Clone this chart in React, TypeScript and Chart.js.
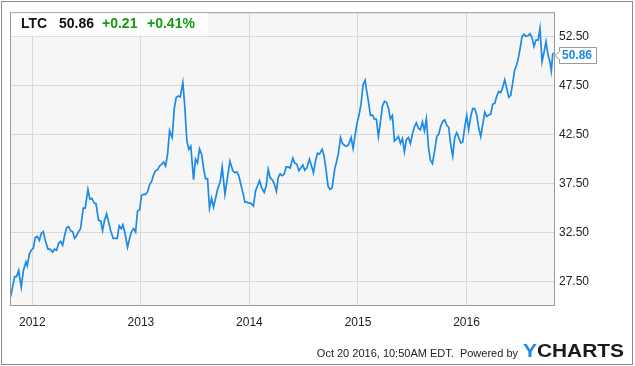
import React, { useEffect, useRef } from "react";
import { Chart, registerables } from "chart.js";

Chart.register(...registerables);

const TICKER = "LTC";
const LAST_PRICE = "50.86";
const CHANGE = "+0.21";
const CHANGE_PCT = "+0.41%";
const FOOTER_TEXT = "Oct 20 2016, 10:50AM EDT.  Powered by";

const yearTicks = [2012, 2013, 2014, 2015, 2016];
const priceTicks = [27.5, 32.5, 37.5, 42.5, 47.5, 52.5];

// dates as decimal years (roughly weekly)
const dates = [
  2011.800, 2011.837, 2011.855, 2011.874, 2011.898, 2011.917, 2011.941, 2011.953, 2011.972, 2011.990,
  2012.009, 2012.027, 2012.045, 2012.064, 2012.082, 2012.101, 2012.119, 2012.144, 2012.162, 2012.187,
  2012.205, 2012.223, 2012.242, 2012.260, 2012.279, 2012.297, 2012.316, 2012.334, 2012.352, 2012.371,
  2012.389, 2012.408, 2012.426, 2012.444, 2012.469, 2012.487, 2012.512, 2012.530, 2012.549, 2012.567,
  2012.586, 2012.610, 2012.629, 2012.647, 2012.665, 2012.684, 2012.702, 2012.721, 2012.745, 2012.764,
  2012.782, 2012.800, 2012.819,
  2012.834, 2012.853, 2012.877, 2012.896, 2012.914, 2012.933, 2012.951, 2012.969, 2012.988, 2013.006,
  2013.025, 2013.043, 2013.061, 2013.080, 2013.098, 2013.117, 2013.135, 2013.154, 2013.172, 2013.190,
  2013.209, 2013.227, 2013.246, 2013.264, 2013.276, 2013.288, 2013.307, 2013.325, 2013.344, 2013.362,
  2013.387, 2013.405, 2013.424, 2013.442, 2013.460, 2013.485, 2013.503, 2013.522, 2013.540, 2013.559,
  2013.577, 2013.595, 2013.614, 2013.632, 2013.651, 2013.669, 2013.688, 2013.706, 2013.731, 2013.749,
  2013.774, 2013.792, 2013.820,
  2013.847, 2013.866, 2013.884, 2013.902, 2013.921, 2013.939, 2013.958, 2013.976, 2013.995, 2014.013,
  2014.037, 2014.056, 2014.074, 2014.093, 2014.111, 2014.136, 2014.154, 2014.173, 2014.191, 2014.209,
  2014.228, 2014.249, 2014.265, 2014.283, 2014.301, 2014.320, 2014.338, 2014.357, 2014.375, 2014.400,
  2014.418, 2014.436, 2014.455, 2014.473, 2014.492, 2014.510, 2014.529, 2014.553, 2014.572, 2014.590,
  2014.608, 2014.627, 2014.645, 2014.670, 2014.688, 2014.707, 2014.725, 2014.743, 2014.762, 2014.786,
  2014.802, 2014.820, 2014.839, 2014.857, 2014.875, 2014.894, 2014.912, 2014.937, 2014.955, 2014.974,
  2014.992, 2015.010, 2015.029, 2015.047, 2015.066, 2015.078, 2015.096, 2015.115, 2015.133, 2015.152,
  2015.170, 2015.188, 2015.207, 2015.225, 2015.244, 2015.262, 2015.281, 2015.299, 2015.317, 2015.336,
  2015.354, 2015.373, 2015.391, 2015.409, 2015.428, 2015.446, 2015.465, 2015.483, 2015.502, 2015.520,
  2015.538, 2015.557, 2015.575, 2015.594, 2015.612, 2015.630, 2015.649, 2015.667, 2015.686,
  2015.707, 2015.726, 2015.744, 2015.762, 2015.781, 2015.799, 2015.818, 2015.836, 2015.854, 2015.873,
  2015.891, 2015.910, 2015.928, 2015.947, 2015.965, 2015.983, 2016.002, 2016.020, 2016.039, 2016.057,
  2016.075, 2016.094, 2016.112, 2016.131, 2016.149, 2016.168, 2016.186, 2016.204, 2016.223, 2016.241,
  2016.260, 2016.278, 2016.296, 2016.315, 2016.333, 2016.352, 2016.370, 2016.389, 2016.407, 2016.425,
  2016.444, 2016.462, 2016.481, 2016.499, 2016.511, 2016.530, 2016.548, 2016.567, 2016.585, 2016.603,
  2016.622, 2016.640, 2016.659, 2016.677, 2016.696, 2016.714, 2016.732, 2016.751, 2016.769, 2016.781,
  2016.794, 2016.806,
];

const prices = [
  25.96, 28.0, 28.0, 28.63, 26.9, 28.6, 29.5, 29.1, 30.3, 30.7,
  30.9, 32.0, 32.1, 31.7, 32.4, 32.6, 31.7, 30.8, 30.8, 30.5,
  30.8, 30.7, 31.4, 31.6, 31.2, 32.2, 33.0, 33.1, 32.7, 32.6,
  31.9, 32.2, 32.6, 32.9, 35.0, 35.0, 36.9, 35.9, 36.0, 35.55,
  35.45, 33.75, 33.7, 32.7, 33.75, 34.4, 33.6, 32.7, 31.9, 31.9,
  31.9, 33.2, 32.9,
  33.3, 32.45, 31.0, 31.9, 32.6, 32.9, 32.55, 34.7, 34.8, 36.3,
  36.4, 36.4, 36.65, 37.4, 37.7, 38.4, 38.8, 38.9, 39.3, 39.45,
  39.7, 39.3, 40.5, 42.9, 42.5, 42.2, 45.1, 46.3, 46.45, 46.35,
  47.8, 45.25, 41.8, 41.0, 41.3, 37.9, 40.0, 39.6, 41.05, 40.5,
  39.1, 38.0, 38.0, 35.0, 36.0, 35.1, 36.0, 36.9, 37.7, 39.2,
  36.4, 37.7, 39.8,
  38.8, 38.6, 38.7, 38.3, 37.4, 36.6, 35.6, 35.6, 35.5, 35.5,
  35.2, 36.75, 37.25, 37.8, 37.1, 36.6, 37.25, 38.95, 38.1, 37.9,
  37.5, 36.7, 38.1, 38.5, 38.3, 38.45, 39.2, 39.2, 39.1, 40.1,
  39.6, 39.5, 38.8, 39.1, 39.4, 38.85, 39.1, 40.0, 39.3, 38.6,
  39.8, 40.6, 40.5, 41.0, 40.3, 38.8, 37.2, 36.9, 37.1, 39.0,
  39.7, 40.6, 42.2, 41.6, 41.4, 41.3, 41.45, 42.2, 41.1, 42.5,
  43.7, 44.5, 45.7, 47.6, 48.05, 47.1, 45.9, 44.45, 44.5, 44.1,
  44.05, 42.3, 43.8, 45.4, 45.9, 45.8, 45.2, 44.1, 44.45, 41.85,
  42.05, 42.3, 41.6, 42.1, 40.75, 42.0, 42.2, 41.6, 42.6, 43.3,
  43.7, 43.15, 43.0, 43.8, 42.9, 44.1, 41.3, 39.9, 39.55,
  40.9, 42.3, 42.55, 43.35, 43.85, 44.0, 43.45, 43.25, 41.5, 40.3,
  42.2, 42.7, 42.2, 41.65, 41.75, 43.25, 44.45, 43.0, 44.35, 45.15,
  45.15, 44.5, 43.2, 42.3, 43.5, 44.8, 44.35, 44.5, 44.6, 45.6,
  45.7, 46.4, 46.9, 46.8, 47.3, 48.1, 47.25, 46.3, 46.5, 47.75,
  49.1, 49.6, 50.5, 51.65, 52.5, 52.75, 52.55, 52.6, 52.8, 52.4,
  51.5, 52.15, 52.15, 53.35, 49.95, 50.9, 52.0, 50.65, 49.9, 49.0,
  50.7, 50.86,
];

const FONT = '"Liberation Sans", Arial, Helvetica, sans-serif';
const LINE_BLUE = "#1c8ae6";
const GREEN = "#129c12";

export default function App() {
  const ref = useRef<HTMLCanvasElement>(null);

  useEffect(() => {
    const canvas = ref.current;
    if (!canvas) return;

    const chrome = {
      id: "chrome",
      beforeDraw(chart: any) {
        const { ctx, chartArea: a } = chart;
        ctx.save();
        ctx.fillStyle = "#ffffff";
        ctx.fillRect(0, 0, chart.width, chart.height);
        ctx.fillStyle = "#f6f6f6";
        ctx.fillRect(a.left, a.top, a.right - a.left, a.bottom - a.top);
        ctx.restore();
      },
      afterDraw(chart: any) {
        const { ctx, chartArea: a } = chart;
        ctx.save();
        // plot frame
        ctx.strokeStyle = "#9a9a9a";
        ctx.lineWidth = 1;
        ctx.strokeRect(a.left + 0.5, a.top + 0.5, a.right - a.left, a.bottom - a.top - 1);

        // header box
        ctx.fillStyle = "rgba(255,255,255,0.82)";
        ctx.fillRect(a.left + 1, a.top + 1, 197, 23);
        ctx.font = `bold 14px ${FONT}`;
        ctx.textBaseline = "alphabetic";
        ctx.textAlign = "left";
        ctx.fillStyle = "#111";
        ctx.fillText(TICKER, 21, 28);
        ctx.fillText(LAST_PRICE, 59, 28);
        ctx.fillStyle = GREEN;
        ctx.fillText(CHANGE, 102, 28);
        ctx.fillText(CHANGE_PCT, 147, 28);

        // last price tag
        const yScale = chart.scales.y;
        const ty = Math.round(yScale.getPixelForValue(prices[prices.length - 1])) + 2.5;
        const bx = 559.5, bw = 37, bh = 16;
        ctx.beginPath();
        ctx.moveTo(555, ty);
        ctx.lineTo(bx, ty - 4);
        ctx.lineTo(bx, ty - bh / 2);
        ctx.lineTo(bx + bw, ty - bh / 2);
        ctx.lineTo(bx + bw, ty + bh / 2);
        ctx.lineTo(bx, ty + bh / 2);
        ctx.lineTo(bx, ty + 4);
        ctx.closePath();
        ctx.fillStyle = "#ffffff";
        ctx.fill();
        ctx.strokeStyle = "#9a9a9a";
        ctx.stroke();
        ctx.font = `bold 12px ${FONT}`;
        ctx.fillStyle = LINE_BLUE;
        ctx.textBaseline = "middle";
        ctx.fillText(LAST_PRICE, 562, ty + 0.5);

        // footer
        ctx.font = `11px ${FONT}`;
        ctx.fillStyle = "#222";
        ctx.textBaseline = "alphabetic";
        ctx.textAlign = "right";
        ctx.fillText(FOOTER_TEXT, 518, 357);
        ctx.textAlign = "left";

        // logo
        ctx.font = `bold 19px ${FONT}`;
        const wY = ctx.measureText("Y").width;
        const wAll = ctx.measureText("YCHARTS").width;
        const sx = 101 / wAll;
        ctx.translate(523, 357);
        ctx.scale(sx, 1);
        ctx.fillStyle = LINE_BLUE;
        ctx.fillText("Y", 0, 0);
        ctx.fillStyle = "#1a1a1a";
        ctx.fillText("CHARTS", wY, 0);
        ctx.setTransform(1, 0, 0, 1, 0, 0);

        // outer border
        ctx.strokeStyle = "#8a8a8a";
        ctx.lineWidth = 1;
        ctx.strokeRect(1.5, 1.5, 631, 363);
        ctx.restore();
      },
    };

    const chart = new Chart(canvas, {
      type: "line",
      data: {
        datasets: [
          {
            data: dates.map((d, i) => ({ x: d, y: prices[i] })),
            borderColor: LINE_BLUE,
            borderWidth: 1.7,
            pointRadius: 0,
            tension: 0,
            fill: false,
          },
        ],
      },
      options: {
        responsive: false,
        animation: false,
        devicePixelRatio: 1,
        layout: { padding: { left: 10, top: 10, right: 0, bottom: 0 } },
        plugins: { legend: { display: false }, tooltip: { enabled: false } },
        scales: {
          x: {
            type: "linear",
            min: 2011.794,
            max: 2016.806,
            afterBuildTicks: (s: any) => {
              s.ticks = yearTicks.map((v) => ({ value: v }));
            },
            afterFit: (s: any) => {
              s.height = 60;
            },
            grid: { color: "#d9d9d9", drawTicks: false, lineWidth: 1 },
            border: { display: false },
            ticks: {
              padding: 9,
              color: "#222",
              font: { family: FONT, size: 12 },
              maxRotation: 0,
              autoSkip: false,
              callback: (v: any) => String(v),
            },
          },
          y: {
            type: "linear",
            position: "right",
            min: 25,
            max: 55,
            afterBuildTicks: (s: any) => {
              s.ticks = priceTicks.map((v) => ({ value: v }));
            },
            afterFit: (s: any) => {
              s.width = 81;
            },
            grid: { color: "#d9d9d9", drawTicks: false, lineWidth: 1 },
            border: { display: false },
            ticks: {
              padding: 5,
              color: "#222",
              font: { family: FONT, size: 12 },
              autoSkip: false,
              callback: (v: any) => Number(v).toFixed(2),
            },
          },
        },
      },
      plugins: [chrome],
    } as any);

    return () => chart.destroy();
  }, []);

  return (
    <div style={{ position: "fixed", left: 0, top: 0, width: 635, height: 366, background: "#fff" }}>
      <canvas ref={ref} width={635} height={366} style={{ display: "block", width: 635, height: 366 }} />
    </div>
  );
}
